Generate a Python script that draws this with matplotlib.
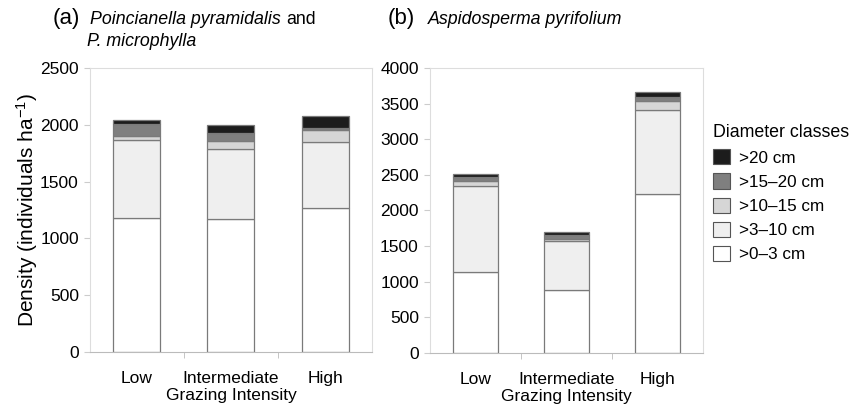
import matplotlib
matplotlib.use("Agg")
import matplotlib.pyplot as plt
from matplotlib.patches import Patch
import numpy as np

plt.rc("font", family="Liberation Sans", size=10)
plt.rc("mathtext", default="regular")

# Data (cumulative tops, converted to class values)
categories = ["Low", "Intermediate", "High"]
classes = [">0\u20133 cm", ">3\u201310 cm", ">10\u201315 cm", ">15\u201320 cm", ">20 cm"]
colors = ["#ffffff", "#efefef", "#d6d6d6", "#7f7f7f", "#1c1c1c"]

# (a) Poincianella pyramidalis and P. microphylla
a_0_3 = [1180, 1175, 1270]
a_3_10 = [690, 610, 575]
a_10_15 = [30, 75, 105]
a_15_20 = [110, 65, 25]
a_20 = [30, 75, 105]

# (b) Aspidosperma pyrifolium
b_0_3 = [1130, 880, 2230]
b_3_10 = [1215, 695, 1190]
b_10_15 = [75, 25, 125]
b_15_20 = [50, 50, 55]
b_20 = [50, 50, 70]

fig = plt.figure(figsize=(8.56, 4.04), dpi=100)
ax1 = fig.add_axes([0.1051, 0.1287, 0.3295, 0.7030])
ax2 = fig.add_axes([0.5023, 0.1270, 0.3190, 0.7040])


def draw(ax, series, ymax, step):
    x = np.arange(len(categories))
    bottom = np.zeros(len(categories))
    for vals, c in zip(series, colors):
        ax.bar(x, vals, bottom=bottom, width=0.5, color=c,
               edgecolor="#7a7a7a", linewidth=0.9)
        bottom += np.array(vals)
    ax.set_xlim(-0.5, len(categories) - 0.5)
    ax.set_ylim(0, ymax)
    ax.set_yticks(np.arange(0, ymax + 1, step))
    ax.set_xticks(x)
    ax.set_xticklabels(categories, fontsize=12.5)
    ax.set_xticks([0.5, 1.5], minor=True)
    ax.tick_params(axis="x", which="major", length=0, pad=14)
    ax.tick_params(axis="x", which="minor", length=4, color="#bbbbbb",
                   direction="out")
    ax.tick_params(axis="y", length=4, color="#cccccc", labelsize=12.5,
                   pad=4)
    for s in ["top", "right", "left"]:
        ax.spines[s].set_color("#dddddd")
    ax.spines["bottom"].set_color("#bbbbbb")
    ax.set_xlabel("Grazing Intensity", fontsize=12.5, labelpad=1)


draw(ax1, [a_0_3, a_3_10, a_10_15, a_15_20, a_20], 2500, 500)
draw(ax2, [b_0_3, b_3_10, b_10_15, b_15_20, b_20], 4000, 500)

ax1.set_ylabel("Density (individuals ha$^{-1}$)", fontsize=15, labelpad=0)

fig.text(0.062, 0.94, "(a)", fontsize=16, va="baseline")
t1 = fig.text(0.105, 0.94, "Poincianella pyramidalis", fontsize=12.8,
              style="italic", va="baseline")
fig.text(0.1015, 0.885, "P. microphylla", fontsize=12.8, style="italic",
         va="baseline")

# put "and" right after the italic species name
fig.canvas.draw()
bb = t1.get_window_extent(fig.canvas.get_renderer())
fig.text(bb.x1 / fig.bbox.width + 0.007, 0.94, "and", fontsize=12.8,
         va="baseline")

fig.text(0.453, 0.94, "(b)", fontsize=16, va="baseline")
fig.text(0.5, 0.94, "Aspidosperma pyrifolium", fontsize=12.8,
         style="italic", va="baseline")

handles = [Patch(facecolor=c, edgecolor="#555555", linewidth=0.8, label=l)
           for c, l in zip(colors, classes)][::-1]
leg = fig.legend(handles=handles, loc="upper left",
                 bbox_to_anchor=(0.815, 0.73), frameon=False,
                 title="Diameter classes", fontsize=12.3,
                 title_fontsize=12.8, handlelength=1.0, handleheight=1.0,
                 handletextpad=0.5, labelspacing=0.45, alignment="left")

fig.savefig("out.png", dpi=100)
